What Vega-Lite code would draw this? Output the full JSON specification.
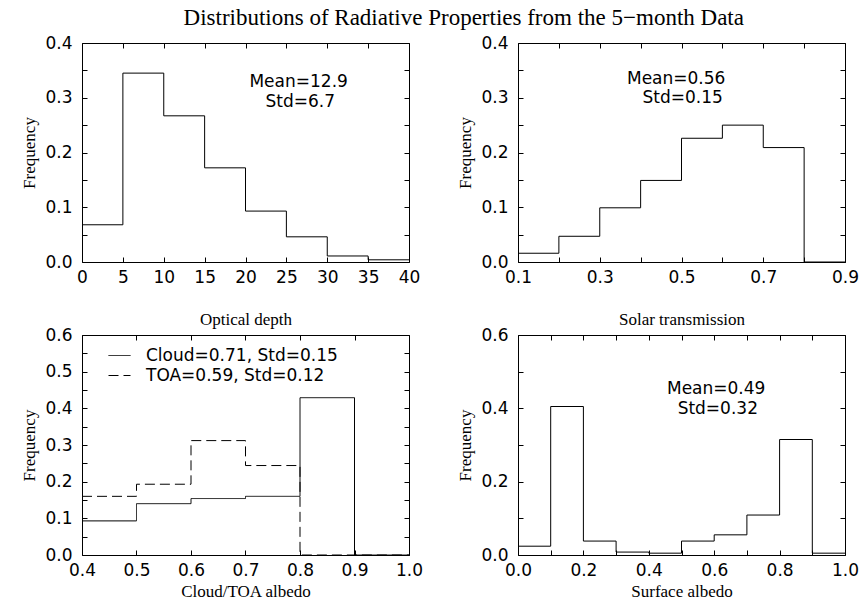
{
  "$schema": "https://vega.github.io/schema/vega-lite/v6.json",
  "padding": {"left": 20, "top": 6, "right": 5, "bottom": 5},
  "title": {"text": "Distributions of Radiative Properties from  the 5−month Data", "font": "Liberation Serif", "fontSize": 23, "fontWeight": "normal", "color": "black", "anchor": "middle", "offset": 4, "dx": 24},
  "columns": 2,
  "bounds": "flush",
  "spacing": {"row": 73, "column": 109},
  "resolve": {"legend": {"strokeDash": "independent"}},
  "datasets": {
    "od": [{"x": 0, "freq": 0.068}, {"x": 5, "freq": 0.345}, {"x": 10, "freq": 0.267}, {"x": 15, "freq": 0.172}, {"x": 20, "freq": 0.093}, {"x": 25, "freq": 0.046}, {"x": 30, "freq": 0.011}, {"x": 35, "freq": 0.004}, {"x": 40, "freq": 0.004}],
    "od_note": [{"x": 26.5, "y": 0.328, "label": "Mean=12.9"}, {"x": 26.7, "y": 0.292, "label": "Std=6.7"}],
    "st": [{"x": 0.1, "freq": 0.016}, {"x": 0.2, "freq": 0.047}, {"x": 0.3, "freq": 0.099}, {"x": 0.4, "freq": 0.149}, {"x": 0.5, "freq": 0.226}, {"x": 0.6, "freq": 0.25}, {"x": 0.7, "freq": 0.209}, {"x": 0.8, "freq": 0}, {"x": 0.9, "freq": 0}],
    "st_note": [{"x": 0.487, "y": 0.334, "label": "Mean=0.56"}, {"x": 0.503, "y": 0.3, "label": "Std=0.15"}],
    "alb": [
      {"x": 0.4, "freq": 0.093, "series": "Cloud=0.71, Std=0.15"}, {"x": 0.5, "freq": 0.14, "series": "Cloud=0.71, Std=0.15"}, {"x": 0.6, "freq": 0.154, "series": "Cloud=0.71, Std=0.15"}, {"x": 0.7, "freq": 0.16, "series": "Cloud=0.71, Std=0.15"}, {"x": 0.8, "freq": 0.429, "series": "Cloud=0.71, Std=0.15"}, {"x": 0.9, "freq": 0, "series": "Cloud=0.71, Std=0.15"}, {"x": 1.0, "freq": 0, "series": "Cloud=0.71, Std=0.15"},
      {"x": 0.4, "freq": 0.16, "series": "TOA=0.59, Std=0.12"}, {"x": 0.5, "freq": 0.193, "series": "TOA=0.59, Std=0.12"}, {"x": 0.6, "freq": 0.312, "series": "TOA=0.59, Std=0.12"}, {"x": 0.7, "freq": 0.244, "series": "TOA=0.59, Std=0.12"}, {"x": 0.8, "freq": 0, "series": "TOA=0.59, Std=0.12"}, {"x": 1.0, "freq": 0, "series": "TOA=0.59, Std=0.12"}
    ],
    "sa": [{"x": 0.0, "freq": 0.024}, {"x": 0.1, "freq": 0.405}, {"x": 0.2, "freq": 0.038}, {"x": 0.3, "freq": 0.008}, {"x": 0.4, "freq": 0.005}, {"x": 0.5, "freq": 0.038}, {"x": 0.6, "freq": 0.055}, {"x": 0.7, "freq": 0.109}, {"x": 0.8, "freq": 0.315}, {"x": 0.9, "freq": 0.005}, {"x": 1.0, "freq": 0.005}],
    "sa_note": [{"x": 0.606, "y": 0.452, "label": "Mean=0.49"}, {"x": 0.611, "y": 0.397, "label": "Std=0.32"}]
  },
  "concat": [
    {
      "width": 327, "height": 219,
      "layer": [
        {"data": {"name": "od"}, "mark": {"type": "line", "interpolate": "step-after", "color": "black", "strokeWidth": 1, "clip": true},
         "encoding": {
           "x": {"field": "x", "type": "quantitative", "scale": {"domain": [0, 40], "nice": false, "zero": false}, "axis": {"orient": "bottom", "title": "Optical depth", "values": [0, 5, 10, 15, 20, 25, 30, 35, 40], "format": "d"}},
           "y": {"field": "freq", "type": "quantitative", "scale": {"domain": [0, 0.4], "nice": false}, "axis": {"orient": "left", "title": "Frequency", "values": [0, 0.05, 0.1, 0.15, 0.2, 0.25, 0.3, 0.35, 0.4], "labelExpr": "abs(datum.value*10 - round(datum.value*10)) < 0.001 ? format(datum.value, '.1f') : ''"}}
         }},
        {"data": {"name": "od_note"}, "mark": {"type": "text", "font": "DejaVu Sans", "fontSize": 17, "color": "black"},
         "encoding": {
           "x": {"field": "x", "type": "quantitative", "axis": {"orient": "top", "title": null, "labels": false, "values": [0, 5, 10, 15, 20, 25, 30, 35, 40]}},
           "y": {"field": "y", "type": "quantitative", "axis": {"orient": "right", "title": null, "labels": false, "values": [0, 0.05, 0.1, 0.15, 0.2, 0.25, 0.3, 0.35, 0.4]}},
           "text": {"field": "label"}
         }}
      ],
      "resolve": {"axis": {"x": "independent", "y": "independent"}}
    },
    {
      "width": 327, "height": 219,
      "layer": [
        {"data": {"name": "st"}, "mark": {"type": "line", "interpolate": "step-after", "color": "black", "strokeWidth": 1, "clip": true},
         "encoding": {
           "x": {"field": "x", "type": "quantitative", "scale": {"domain": [0.1, 0.9], "nice": false, "zero": false}, "axis": {"orient": "bottom", "title": "Solar transmission", "values": [0.1, 0.2, 0.3, 0.4, 0.5, 0.6, 0.7, 0.8, 0.9], "labelExpr": "abs((datum.value-0.1)*5 - round((datum.value-0.1)*5)) < 0.001 ? format(datum.value, '.1f') : ''"}},
           "y": {"field": "freq", "type": "quantitative", "scale": {"domain": [0, 0.4], "nice": false}, "axis": {"orient": "left", "title": "Frequency", "values": [0, 0.05, 0.1, 0.15, 0.2, 0.25, 0.3, 0.35, 0.4], "labelExpr": "abs(datum.value*10 - round(datum.value*10)) < 0.001 ? format(datum.value, '.1f') : ''"}}
         }},
        {"data": {"name": "st_note"}, "mark": {"type": "text", "font": "DejaVu Sans", "fontSize": 17, "color": "black"},
         "encoding": {
           "x": {"field": "x", "type": "quantitative", "axis": {"orient": "top", "title": null, "labels": false, "values": [0.1, 0.2, 0.3, 0.4, 0.5, 0.6, 0.7, 0.8, 0.9]}},
           "y": {"field": "y", "type": "quantitative", "axis": {"orient": "right", "title": null, "labels": false, "values": [0, 0.05, 0.1, 0.15, 0.2, 0.25, 0.3, 0.35, 0.4]}},
           "text": {"field": "label"}
         }}
      ],
      "resolve": {"axis": {"x": "independent", "y": "independent"}}
    },
    {
      "width": 327, "height": 220,
      "layer": [
        {"data": {"name": "alb"}, "mark": {"type": "line", "interpolate": "step-after", "color": "black", "strokeWidth": 1, "clip": true},
         "encoding": {
           "x": {"field": "x", "type": "quantitative", "scale": {"domain": [0.4, 1.0], "nice": false, "zero": false}, "axis": {"orient": "bottom", "title": "Cloud/TOA albedo", "titlePadding": 5, "values": [0.4, 0.5, 0.6, 0.7, 0.8, 0.9, 1.0], "format": ".1f"}},
           "y": {"field": "freq", "type": "quantitative", "scale": {"domain": [0, 0.6], "nice": false}, "axis": {"orient": "left", "title": "Frequency", "values": [0, 0.05, 0.1, 0.15, 0.2, 0.25, 0.3, 0.35, 0.4, 0.45, 0.5, 0.55, 0.6], "labelExpr": "abs(datum.value*10 - round(datum.value*10)) < 0.001 ? format(datum.value, '.1f') : ''"}},
           "strokeDash": {"field": "series", "type": "nominal", "scale": {"domain": ["Cloud=0.71, Std=0.15", "TOA=0.59, Std=0.12"], "range": [[1, 0], [10, 5]]},
             "legend": {"orient": "top-left", "title": null, "offset": 9, "padding": 0, "symbolType": "stroke", "symbolSize": 484, "symbolStrokeWidth": 1, "symbolStrokeColor": "black", "symbolOffset": 17, "labelFont": "DejaVu Sans", "labelFontSize": 17, "labelColor": "black", "labelOffset": 15, "labelLimit": 0, "rowPadding": -6}}
         }},
        {"data": {"name": "alb"}, "mark": {"type": "line", "interpolate": "step-after", "opacity": 0, "strokeWidth": 0},
         "encoding": {
           "x": {"field": "x", "type": "quantitative", "axis": {"orient": "top", "title": null, "labels": false, "values": [0.4, 0.5, 0.6, 0.7, 0.8, 0.9, 1.0]}},
           "y": {"field": "freq", "type": "quantitative", "axis": {"orient": "right", "title": null, "labels": false, "values": [0, 0.05, 0.1, 0.15, 0.2, 0.25, 0.3, 0.35, 0.4, 0.45, 0.5, 0.55, 0.6]}},
           "detail": {"field": "series"}
         }}
      ],
      "resolve": {"axis": {"x": "independent", "y": "independent"}}
    },
    {
      "width": 327, "height": 220,
      "layer": [
        {"data": {"name": "sa"}, "mark": {"type": "line", "interpolate": "step-after", "color": "black", "strokeWidth": 1, "clip": true},
         "encoding": {
           "x": {"field": "x", "type": "quantitative", "scale": {"domain": [0, 1.0], "nice": false, "zero": false}, "axis": {"orient": "bottom", "title": "Surface albedo", "titlePadding": 5, "values": [0, 0.1, 0.2, 0.3, 0.4, 0.5, 0.6, 0.7, 0.8, 0.9, 1.0], "labelExpr": "abs(datum.value*5 - round(datum.value*5)) < 0.001 ? format(datum.value, '.1f') : ''"}},
           "y": {"field": "freq", "type": "quantitative", "scale": {"domain": [0, 0.6], "nice": false}, "axis": {"orient": "left", "title": "Frequency", "values": [0, 0.1, 0.2, 0.3, 0.4, 0.5, 0.6], "labelExpr": "abs(datum.value*5 - round(datum.value*5)) < 0.001 ? format(datum.value, '.1f') : ''"}}
         }},
        {"data": {"name": "sa_note"}, "mark": {"type": "text", "font": "DejaVu Sans", "fontSize": 17, "color": "black"},
         "encoding": {
           "x": {"field": "x", "type": "quantitative", "axis": {"orient": "top", "title": null, "labels": false, "values": [0, 0.1, 0.2, 0.3, 0.4, 0.5, 0.6, 0.7, 0.8, 0.9, 1.0]}},
           "y": {"field": "y", "type": "quantitative", "axis": {"orient": "right", "title": null, "labels": false, "values": [0, 0.1, 0.2, 0.3, 0.4, 0.5, 0.6]}},
           "text": {"field": "label"}
         }}
      ],
      "resolve": {"axis": {"x": "independent", "y": "independent"}}
    }
  ],
  "config": {
    "background": "white",
    "view": {"stroke": "black", "strokeWidth": 1},
    "axis": {"domain": false, "grid": false, "ticks": true, "tickColor": "black", "tickSize": -5, "tickWidth": 1, "labelPadding": 12, "labelFont": "DejaVu Sans", "labelFontSize": 17, "labelColor": "black", "labelFlush": false, "labelOverlap": false, "labelBound": false, "titleFont": "Liberation Serif", "titleFontSize": 17, "titleFontWeight": "normal", "titleColor": "black"},
    "axisX": {"titlePadding": 26},
    "axisY": {"titlePadding": 6, "labelPadding": 15}
  }
}
